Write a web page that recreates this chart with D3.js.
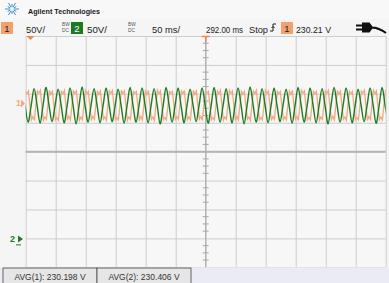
<!DOCTYPE html>
<html><head><meta charset="utf-8">
<script src="https://cdn.jsdelivr.net/npm/d3@7"></script>
<style>html,body{margin:0;padding:0;background:#f5f5f5;overflow:hidden}svg{display:block;font-family:"Liberation Sans",Arial,sans-serif}</style>
</head><body>
<script>
// ---- data ----
const timeDivs = [-300,-250,-200,-150,-100,-50,0,50,100,150,200,250,300]; // ms
const voltDivs = [-200,-150,-100,-50,0,50,100,150,200];                   // screen volts
const headerLabels = ["50V/","50V/","50 ms/","292.00 ms","Stop","230.21 V"];
const avgLabels = ["AVG(1): 230.198 V","AVG(2): 230.406 V"];
const ch2Start = -301, ch2Step = 5;      // ms
const ch2Values = [
81,51,79,109, 80,49,81,111, 79,52,80,108, 81,50,79,110, 80,48,80,112,
79,51,81,109, 80,50,80,110, 81,52,79,108, 80,49,80,111, 79,51,81,110,
80,50,80,109, 81,48,79,111, 80,51,80,110, 79,50,81,108, 80,52,80,110,
81,49,79,111, 80,51,80,109, 79,50,81,110, 80,48,80,112, 81,51,79,109,
80,50,80,110, 79,52,81,108, 80,49,80,111, 81,51,79,110, 80,50,80,109,
79,48,81,111, 80,51,80,110, 81,50,79,108, 80,52,80,110, 81,49,79,111,
80,51];
const ch1Start = -313, ch1Step = 2.5;    // ms
const ch1Values = [
80,56,60,55,79,104,100,105, 81,55,61,54,80,105,101,106, 79,54,60,56,81,106,99,104,
80,55,59,54,80,104,100,106, 81,56,61,55,79,105,101,105, 80,54,60,55,80,106,100,104,
79,55,61,56,81,104,99,105, 80,56,60,54,80,105,101,106, 81,55,59,55,79,106,100,105,
80,54,60,56,80,104,101,104, 79,55,61,55,81,105,99,106, 80,56,60,54,80,106,100,105,
81,55,59,55,79,104,101,104, 80,54,61,56,80,105,100,106, 79,55,60,55,81,106,99,105,
80,56,61,54,80,104,101,104, 81,55,59,55,79,105,100,106, 80,54,60,56,80,106,101,105,
79,55,61,55,81,104,99,104, 80,56,60,54,80,105,100,106, 81,55,59,55,79,106,101,105,
80,54,61,56,80,104,100,104, 79,55,60,55,81,105,99,106, 80,56,61,54,80,106,101,105,
81,55,59,55,79,104,100,104, 80,54,60,56,80,105,101,106, 79,55,61,55,81,106,99,105,
80,56,60,54,80,104,100,104, 81,55,59,55,79,105,101,106, 80,54,61,56,80,106,100,105,
80,55,60,55,80,105,100,106,80,56,60];
const ch1Ground = 85, ch2Ground = -150;   // screen volts of channel markers
const ORANGE = "#f2a97f", GREEN = "#1c7a22";

// ---- layout ----
const W = 389, H = 283;
const x = d3.scaleLinear().domain([-300,300]).range([25.7,385.7]);
const y = d3.scaleLinear().domain([-200,200]).range([267.3,36]);
const svg = d3.select("body").append("svg").attr("width",W).attr("height",H);

svg.append("rect").attr("width",W).attr("height",H).attr("fill","#f5f5f5");
svg.append("rect").attr("x",0).attr("y",0).attr("width",W).attr("height",19).attr("fill","#f8f8f8");
// plot area
svg.append("rect").attr("x",x(-300)).attr("y",y(200)).attr("width",x(300)-x(-300)).attr("height",y(-200)-y(200)).attr("fill","#f7f7f7");

const grid = svg.append("g");
grid.append("g").attr("transform",`translate(0,${y(-200)})`)
  .call(d3.axisBottom(x).tickValues(timeDivs).tickSize(-(y(-200)-y(200))).tickFormat(""))
  .call(g=>{g.select(".domain").remove();g.selectAll("line").attr("stroke","#cdcdcd");});
grid.append("g").attr("transform",`translate(${x(-300)},0)`)
  .call(d3.axisLeft(y).tickValues(voltDivs).tickSize(-(x(300)-x(-300))).tickFormat(""))
  .call(g=>{g.select(".domain").remove();g.selectAll("line").attr("stroke","#cdcdcd");});
// center axes
grid.append("line").attr("x1",x(-300)).attr("x2",x(300)).attr("y1",y(0)).attr("y2",y(0)).attr("stroke","#b4b4b4").attr("stroke-width",2);
grid.append("line").attr("x1",x(0)).attr("x2",x(0)).attr("y1",y(200)).attr("y2",y(-200)).attr("stroke","#a8a8a8");
const minor = d3.range(-200,200.1,12.5).filter(v=>v%50!==0);
grid.selectAll(".mt").data(minor).join("line").attr("x1",x(0)-3).attr("x2",x(0)+3)
  .attr("y1",d=>y(d)).attr("y2",d=>y(d)).attr("stroke","#a8a8a8");

// traces
const clip = svg.append("clipPath").attr("id","pc").append("rect")
  .attr("x",x(-300)).attr("y",y(200)).attr("width",x(300)-x(-300)).attr("height",y(-200)-y(200));
const line1 = d3.line().x((d,i)=>x(ch1Start+i*ch1Step)).y(d=>y(d));
const line2 = d3.line().x((d,i)=>x(ch2Start+i*ch2Step)).y(d=>y(d)).curve(d3.curveCardinal);
const tr = svg.append("g").attr("clip-path","url(#pc)");
tr.append("path").attr("d",line1(ch1Values)).attr("fill","none").attr("stroke",ORANGE).attr("stroke-width",1.3);
tr.append("path").attr("d",line2(ch2Values)).attr("fill","none").attr("stroke",GREEN).attr("stroke-width",1.4);

// top markers
svg.append("path").attr("d",`M${x(-292)-4},36 L${x(-292)+4},36 L${x(-292)},40 Z`).attr("fill","#e8894f");
svg.append("path").attr("d",`M${x(0)-4},36.5 L${x(0)+4},36.5 M${x(0)},36.5 L${x(0)},42`).attr("stroke","#e8894f").attr("stroke-width",1.5);

// channel markers
const m1 = svg.append("g").attr("transform",`translate(0,${y(ch1Ground)})`);
m1.append("text").attr("x",16).attr("y",3.5).attr("font-size",9).attr("font-weight","bold").attr("fill",ORANGE).text("1");
m1.append("path").attr("d","M21,-3 L25,1 L21,5 Z").attr("fill",ORANGE);
const m2 = svg.append("g").attr("transform",`translate(0,${y(ch2Ground)})`);
m2.append("text").attr("x",10).attr("y",3.5).attr("font-size",9).attr("font-weight","bold").attr("fill",GREEN).text("2");
m2.append("path").attr("d","M18,-3 L23,0.5 L18,4 Z").attr("fill",GREEN);
m2.append("line").attr("x1",16).attr("x2",21).attr("y1",6.5).attr("y2",6.5).attr("stroke",GREEN);

// header
const logo = svg.append("g").attr("transform","translate(12,9)");
d3.range(0,360,30).forEach(a=>{
  const r=a*Math.PI/180, L=(a%60===0)?7:5;
  logo.append("line").attr("x1",Math.cos(r)*2).attr("y1",Math.sin(r)*2).attr("x2",Math.cos(r)*L).attr("y2",Math.sin(r)*L)
    .attr("stroke","#3a8fd0").attr("stroke-width",1);
});
svg.append("text").attr("x",28).attr("y",14).attr("font-size",7.8).attr("font-weight","bold").attr("fill","#1a1a1a")
  .attr("textLength",72).attr("lengthAdjust","spacingAndGlyphs").text("Agilent Technologies");

function box(xp,txt,col){
  svg.append("rect").attr("x",xp).attr("y",22).attr("width",12).attr("height",12).attr("fill",col);
  svg.append("text").attr("x",xp+6).attr("y",32).attr("text-anchor","middle").attr("font-size",9.5).attr("fill",col===GREEN?"#fff":"#222").text(txt);
}
function bwdc(xp){
  svg.append("text").attr("x",xp).attr("y",25.5).attr("font-size",4.8).attr("fill","#555").text("BW");
  svg.append("text").attr("x",xp).attr("y",31.5).attr("font-size",4.8).attr("fill","#555").text("DC");
}
box(1,"1","#f2a070");
const hx=[26,87,152,206,249,296], hw=[19,20,28,37,19,35];
headerLabels.forEach((t,i)=>{
  svg.append("text").attr("x",hx[i]).attr("y",32.5).attr("font-size",9.5).attr("fill","#222")
    .attr("textLength",hw[i]).attr("lengthAdjust","spacingAndGlyphs").text(t);
});
bwdc(62); box(71,"2",GREEN); bwdc(128); box(281,"1","#f2a070");
// trigger edge symbol
svg.append("path").attr("d","M270,31 L273,31 L273,24 L276,24 M271.5,28 L273,26.5 L274.5,28").attr("fill","none").attr("stroke","#222").attr("stroke-width",1);
// plug icon
svg.append("path").attr("d","M356,25.5 L364,25.5 M356,29.5 L364,29.5 M363,23.5 L369,23.5 L372,27.5 L369,31.5 L363,31.5 Z M372,27.5 Q379,27.5 386,33")
  .attr("fill","#111").attr("stroke","#111").attr("stroke-width",2);

// bottom bar
svg.append("rect").attr("x",0).attr("y",267.5).attr("width",W).attr("height",H-267.5).attr("fill","#ebebf5");
avgLabels.forEach((t,i)=>{
  const bx=3+i*94;
  svg.append("rect").attr("x",bx).attr("y",268).attr("width",94).attr("height",16).attr("fill","#e6e6e6").attr("stroke","#444").attr("stroke-width",0.8);
  svg.append("text").attr("x",bx+47).attr("y",279.5).attr("text-anchor","middle").attr("font-size",8.5).attr("fill","#333").text(t);
});
</script>
</body></html>
